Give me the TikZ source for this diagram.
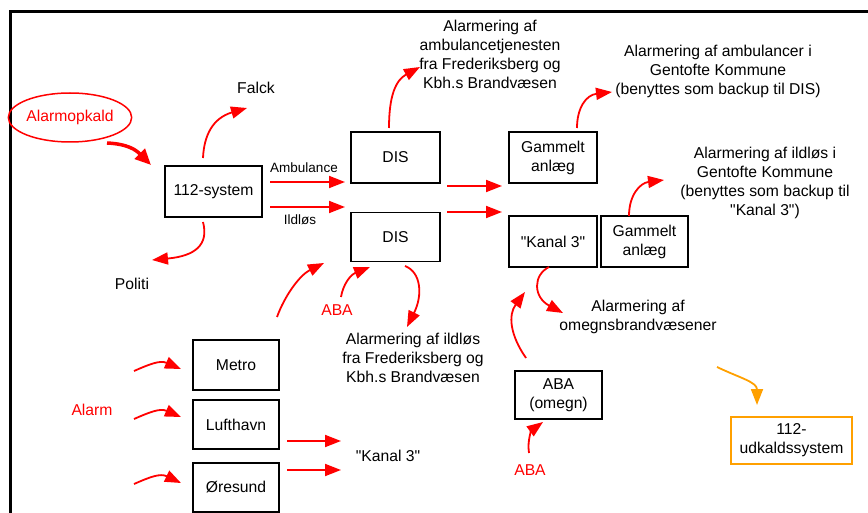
\documentclass[tikz,border=0pt]{standalone}
\usepackage{fontspec}
\setmainfont{Liberation Sans}[Ligatures=TeXOff]
\usetikzlibrary{arrows.meta,shapes.geometric}
\definecolor{myorange}{RGB}{255,160,0}
\begin{document}
\begin{tikzpicture}[x=1pt,y=-1pt,
  mainfont/.style={font=\fontsize{15.7}{19}\selectfont},
  box/.style={draw=black,line width=1.6pt,align=center,inner sep=0pt,mainfont},
  txt/.style={align=center,inner sep=0pt,mainfont},
  lbl/.style={align=center,inner sep=0pt,font=\fontsize{13.5}{16}\selectfont},
  redtxt/.style={txt,text=red},
  rarr/.style={draw=red,line width=1.8pt,-{Triangle[length=16pt,width=12pt]}},
  bigarr/.style={draw=red,line width=3.5pt,-{Triangle[length=16pt,width=14pt]}},
  oarr/.style={draw=myorange,line width=1.8pt,-{Triangle[length=16pt,width=12pt]}},
]
\useasboundingbox (0,0) rectangle (868,513);
\draw[line width=3.3pt] (10.7,513) -- (10.7,11.7) -- (868,11.7);

% boxes
\node[box,minimum width=97,minimum height=51] (sys) at (213.5,191.5) {112-system};
\node[box,minimum width=89,minimum height=51] (dis1) at (395.5,157.5) {DIS};
\node[box,minimum width=89,minimum height=49] (dis2) at (395.5,237) {DIS};
\node[box,minimum width=88,minimum height=51] (gam1) at (553,157.5) {Gammelt\\anlæg};
\node[box,minimum width=88,minimum height=51] (kan) at (553,241.5) {"Kanal 3"};
\node[box,minimum width=87,minimum height=51] (gam2) at (644.5,241.5) {Gammelt\\anlæg};
\node[box,minimum width=87,minimum height=48] (aba) at (558.5,395) {ABA\\(omegn)};
\node[box,minimum width=86,minimum height=50] (metro) at (236,365) {Metro};
\node[box,minimum width=86,minimum height=49] (luft) at (236,424.5) {Lufthavn};
\node[box,minimum width=86,minimum height=49] (ores) at (236,487.5) {Øresund};
\node[box,draw=myorange,minimum width=121,minimum height=47] (udk) at (791.5,440.5) {112-\\udkaldssystem};

% ellipse
\node[ellipse,draw=red,line width=1.5pt,minimum width=110,minimum height=49,inner sep=0pt,text=red,mainfont] (alarm) at (70,117.5) {Alarmopkald};

% texts
\node[txt] (falck) at (256,88) {Falck};
\node[txt] (politi) at (132,284) {Politi};
\node[lbl] (amb) at (304,168) {Ambulance};
\node[lbl] (ild) at (300,220) {Ildløs};
\node[txt] (t1) at (490,54) {Alarmering af\\ambulancetjenesten\\fra Frederiksberg og\\Kbh.s Brandvæsen};
\node[txt] (t2) at (718,71) {Alarmering af ambulancer i\\Gentofte Kommune\\(benyttes som backup til DIS)};
\node[txt] (t3) at (765,183) {Alarmering af ildløs i\\Gentofte Kommune\\(benyttes som backup til\\"Kanal 3")};
\node[txt] (t4) at (638,317) {Alarmering af\\omegnsbrandvæsener};
\node[txt] (t5) at (413,358) {Alarmering af ildløs\\fra Frederiksberg og\\Kbh.s Brandvæsen};
\node[txt] (k3) at (388,456) {"Kanal 3"};
\node[redtxt] (alarmtxt) at (92,410) {Alarm};
\node[redtxt] (aba1) at (337,310) {ABA};
\node[redtxt] (aba2) at (530,470) {ABA};

% arrows
\draw[bigarr] (107,143) .. controls (128,144) and (136,150) .. (151,165);
\draw[rarr] (203,158) .. controls (204,135) and (213,118) .. (247,108);
\draw[rarr] (203,222) .. controls (209,245) and (195,256) .. (152,260);
\draw[rarr] (270,182) -- (345,182);
\draw[rarr] (270,207) -- (345,207);
\draw[rarr] (447,186) -- (502,186);
\draw[rarr] (447,212) -- (502,212);
\draw[rarr] (389,128) .. controls (389,95) and (396,80) .. (420,67);
\draw[rarr] (577,128) .. controls (577,108) and (586,95) .. (612,92);
\draw[rarr] (629,216) .. controls (629,195) and (640,183) .. (664,180);
\draw[rarr] (277,317) .. controls (285,295) and (300,275) .. (324,263);
\draw[rarr] (341,297) .. controls (343,285) and (350,275) .. (370,267);
\draw[rarr] (405,266) .. controls (421,272) and (423,295) .. (407,327);
\draw[rarr] (549,267) .. controls (533,275) and (533,297) .. (563,313);
\draw[rarr] (526,358) .. controls (510,335) and (508,315) .. (525,292);
\draw[rarr] (529,453) .. controls (527,440) and (532,430) .. (543,422);
\draw[oarr] (717,367) .. controls (740,378) and (757,382) .. (757,405);
\draw[rarr] (134,371) .. controls (150,364) and (160,360) .. (181,369);
\draw[rarr] (134,419) .. controls (150,412) and (160,408) .. (181,417);
\draw[rarr] (134,484) .. controls (150,477) and (160,473) .. (181,483);
\draw[rarr] (287,441) -- (341,441);
\draw[rarr] (287,470) -- (341,470);
\end{tikzpicture}
\end{document}
